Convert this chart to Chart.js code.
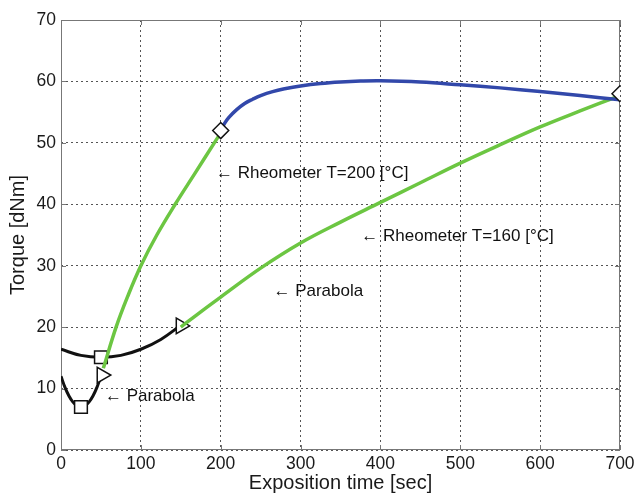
<!DOCTYPE html>
<html>
<head>
<meta charset="utf-8">
<script src="https://cdn.jsdelivr.net/npm/chart.js@4.4.1/dist/chart.umd.min.js"></script>
<style>
  html, body { margin: 0; padding: 0; background: #fff; }
</style>
</head>
<body>
<canvas id="torqueChart" width="636" height="496"></canvas>
<script>
// Parabola fits (black)
const parabolaAX = [0, 5, 10, 15, 20, 25, 30, 35, 40, 45, 50];
const parabolaAY = [12, 10.2, 8.8, 7.8, 7.2, 7.0, 7.2, 7.8, 8.8, 10.2, 12];
const parabolaBX = [0, 25, 50, 75, 100, 125, 150];
const parabolaBY = [16.4, 15.4, 15.1, 15.4, 16.4, 18.0, 20.3];

// Rheometer T=200: green rising part, then blue part
const rheo200GreenX = [53, 69, 83.5, 100, 120, 143, 167.5, 192, 199];
const rheo200GreenY = [13.3, 20, 25, 30, 35, 40, 45, 50, 51.4];
const rheo200BlueX = [200, 205, 210, 220, 230, 240, 250, 265, 280, 300, 325, 350, 375, 400, 450, 500, 550, 600, 650, 700];
const rheo200BlueY = [52, 53.2, 54.1, 55.4, 56.4, 57.1, 57.7, 58.35, 58.8, 59.25, 59.65, 59.9, 60.05, 60.1, 59.9, 59.45, 58.95, 58.35, 57.7, 57.0];

// Rheometer T=160 (green)
const rheo160X = [150, 175, 200, 250, 300, 350, 400, 450, 500, 550, 600, 650, 700];
const rheo160Y = [20, 22.5, 24.9, 29.6, 33.7, 37.1, 40.3, 43.5, 46.7, 49.7, 52.6, 55.2, 57.7];

// Markers
const squareX = [25, 50];
const squareY = [7, 15.1];
const triangleX = [51, 150];
const triangleY = [12.2, 20.2];
const diamondX = [200, 700];
const diamondY = [52, 58];

// Text labels (anchored at data coordinates)
const noteText = ["\u2190 Rheometer T=200 [\u00B0C]", "\u2190 Rheometer T=160 [\u00B0C]", "\u2190 Parabola", "\u2190 Parabola"];
const noteX = [194, 376, 266, 55];
const noteY = [45.1, 34.8, 25.8, 8.7];

const toPoints = (xs, ys) => xs.map((x, i) => ({ x: x, y: ys[i] }));

const FONT = '"Liberation Sans", Arial, sans-serif';
const GREEN = "rgb(108, 198, 66)";
const BLUE = "rgb(50, 72, 170)";

const frameAndNotes = {
  id: "frameAndNotes",
  beforeDatasetsDraw(chart) {
    const { ctx, chartArea: a, scales } = chart;
    ctx.save();
    ctx.strokeStyle = "#777";
    ctx.lineWidth = 1;
    ctx.strokeRect(a.left + 0.5, a.top + 0.5, a.right - a.left - 1, a.bottom - a.top - 1);
    // inward tick marks on all four sides
    ctx.beginPath();
    scales.x.ticks.forEach((t) => {
      const px = Math.round(scales.x.getPixelForValue(t.value)) + 0.5;
      ctx.moveTo(px, a.bottom); ctx.lineTo(px, a.bottom - 5);
      ctx.moveTo(px, a.top); ctx.lineTo(px, a.top + 5);
    });
    scales.y.ticks.forEach((t) => {
      const py = Math.round(scales.y.getPixelForValue(t.value)) + 0.5;
      ctx.moveTo(a.left, py); ctx.lineTo(a.left + 5, py);
      ctx.moveTo(a.right, py); ctx.lineTo(a.right - 5, py);
    });
    ctx.stroke();
    ctx.restore();
  },
  afterDatasetsDraw(chart) {
    const { ctx, scales } = chart;
    ctx.save();
    ctx.fillStyle = "#111";
    ctx.font = "17px " + FONT;
    ctx.textAlign = "left";
    ctx.textBaseline = "middle";
    noteText.forEach((t, i) => {
      ctx.fillText(t, scales.x.getPixelForValue(noteX[i]), scales.y.getPixelForValue(noteY[i]));
    });
    ctx.restore();
  },
};

const lineSet = (data, color, width, order) => ({
  data: data,
  showLine: true,
  borderColor: color,
  borderWidth: width,
  pointRadius: 0,
  tension: 0.4,
  order: order,
});

const markerSet = (data, style, radius, rotation, order) => ({
  data: data,
  showLine: false,
  pointStyle: style,
  pointRadius: radius,
  pointRotation: rotation,
  pointBackgroundColor: "#fff",
  pointBorderColor: "#111",
  pointBorderWidth: 1.5,
  order: order,
});

new Chart(document.getElementById("torqueChart"), {
  type: "scatter",
  data: {
    datasets: [
      markerSet(toPoints(diamondX, diamondY), "rectRot", 8, 0, 1),
      lineSet(toPoints(rheo200BlueX, rheo200BlueY), BLUE, 3.5, 2),
      lineSet(toPoints(rheo160X, rheo160Y), GREEN, 3.5, 3),
      lineSet(toPoints(rheo200GreenX, rheo200GreenY), GREEN, 3.5, 4),
      markerSet(toPoints(squareX, squareY), "rect", 9, 0, 5),
      markerSet(toPoints(triangleX, triangleY), "triangle", 9, 90, 5),
      lineSet(toPoints(parabolaBX, parabolaBY), "#111", 3, 6),
      lineSet(toPoints(parabolaAX, parabolaAY), "#111", 3, 6),
    ],
  },
  options: {
    responsive: false,
    animation: false,
    layout: { padding: { top: 20, right: 16, left: 0, bottom: 0 } },
    plugins: {
      legend: { display: false },
      tooltip: { enabled: false },
    },
    scales: {
      x: {
        type: "linear",
        min: 0,
        max: 700,
        afterFit: (s) => { s.height = 46; s.paddingLeft = 0; s.paddingRight = 0; },
        ticks: { stepSize: 100, color: "#1a1a1a", padding: 4, font: { family: FONT, size: 17.5 } },
        grid: { color: "#555", lineWidth: 1, drawTicks: false },
        border: { display: false, dash: [2, 3] },
        title: {
          display: true,
          text: "Exposition time [sec]",
          color: "#1a1a1a",
          font: { family: FONT, size: 20 },
          padding: { top: 0, bottom: 1 },
        },
      },
      y: {
        type: "linear",
        min: 0,
        max: 70,
        afterFit: (s) => { s.width = 61; },
        ticks: { stepSize: 10, color: "#1a1a1a", padding: 5, font: { family: FONT, size: 17.5 } },
        grid: { color: "#555", lineWidth: 1, drawTicks: false },
        border: { display: false, dash: [2, 3] },
        title: {
          display: true,
          text: "Torque [dNm]",
          color: "#1a1a1a",
          font: { family: FONT, size: 20 },
          padding: { top: 6, bottom: 6 },
        },
      },
    },
  },
  plugins: [frameAndNotes],
});
</script>
</body>
</html>
